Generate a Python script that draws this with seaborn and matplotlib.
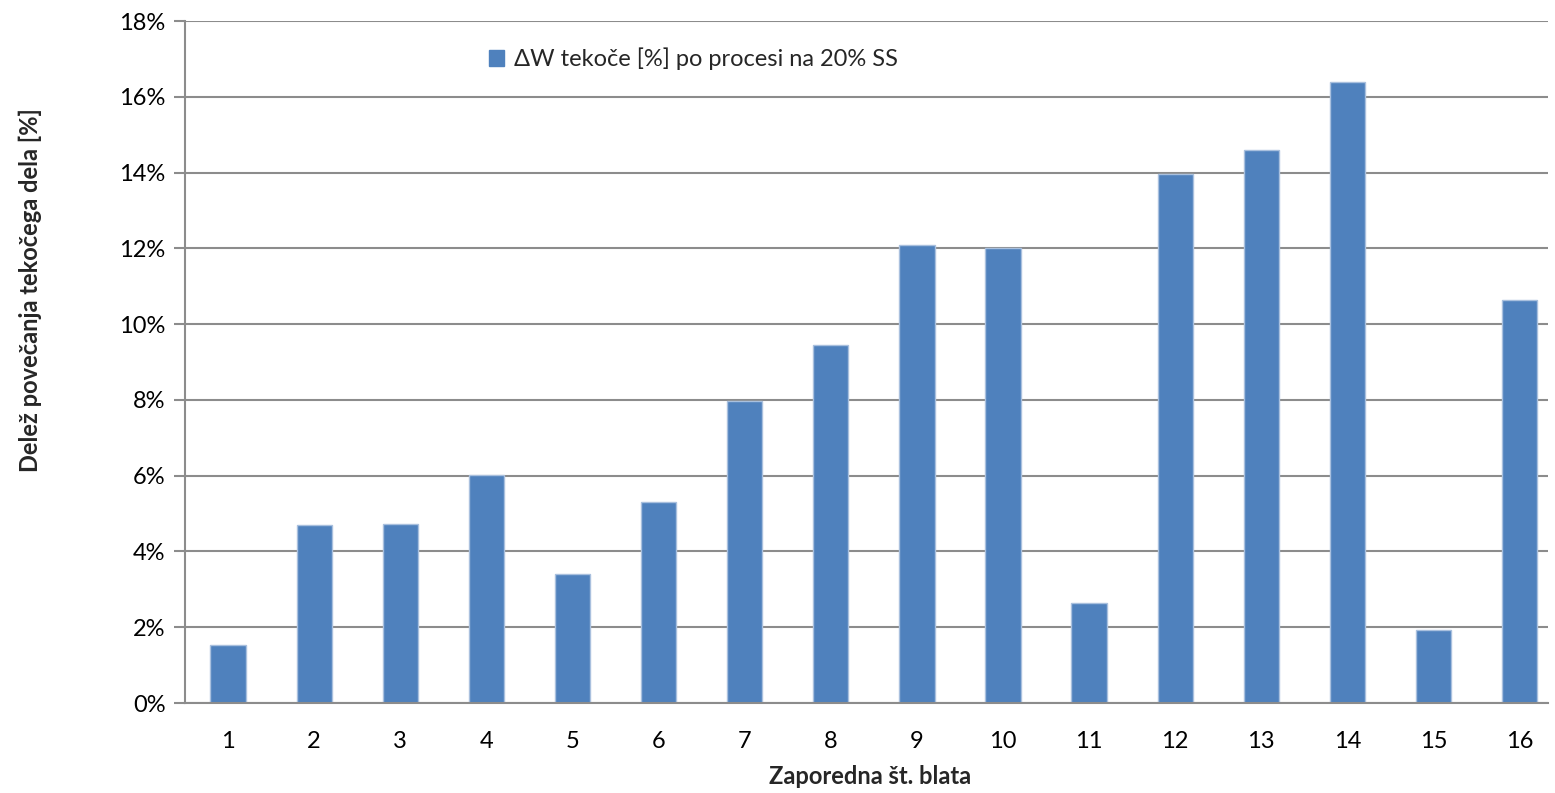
import matplotlib
matplotlib.use("Agg")
import matplotlib.pyplot as plt
import seaborn as sns
import pandas as pd
from matplotlib.ticker import FuncFormatter, MultipleLocator
from matplotlib.patches import Patch

categories = [str(i) for i in range(1, 17)]
values = [1.53, 4.70, 4.72, 6.02, 3.40, 5.30, 7.98, 9.45, 12.08, 12.0, 2.63, 13.96, 14.60, 16.40, 1.93, 10.63]
series_name = "ΔW tekoče [%] po procesi na 20% SS"
x_label = "Zaporedna št. blata"
y_label = "Delež povečanja tekočega dela [%]"

sns.set_theme(style="white")
plt.rcParams['font.family'] = ['Lato', 'DejaVu Sans']

df = pd.DataFrame({"cat": categories, "val": values})

fig = plt.figure(figsize=(15.55, 7.93), dpi=100)
ax = fig.add_axes([185/1555, 90/793, (1548-185)/1555, (703-21)/793])

grid_c = "#8c8c8c"
bar_c = "#4F81BD"
fs = 17
sns.barplot(data=df, x="cat", y="val", color=bar_c, width=0.41, ax=ax,
            edgecolor="#a9c0de", linewidth=1.0, saturation=1)

ax.set_ylim(0, 18)
ax.set_xlim(-0.5, 15.33)
ax.yaxis.set_major_locator(MultipleLocator(2))
ax.yaxis.set_major_formatter(FuncFormatter(lambda v, p: f"{int(round(v))}%"))
ax.yaxis.grid(True, color=grid_c, linewidth=1.5)
ax.set_axisbelow(True)
for s in ["top", "right"]:
    ax.spines[s].set_visible(False)
for s in ["left", "bottom"]:
    ax.spines[s].set_color(grid_c)
    ax.spines[s].set_linewidth(1.5)
ax.tick_params(axis="y", which="major", left=True, length=8, width=1.5, color=grid_c,
               labelsize=fs, pad=6, labelcolor="black")
ax.tick_params(axis="x", bottom=False, labelsize=fs, pad=14, labelcolor="black")
ax.set_xlabel("")
ax.set_ylabel("")

fig.text(870/1555, 1 - 777/793, x_label, ha="center", va="center", fontsize=fs,
         fontweight="bold")
fig.text(30/1555, 1 - 290/793, y_label, ha="center", va="center", rotation=90,
         fontsize=fs, fontweight="bold")

handle = Patch(facecolor=bar_c, edgecolor=bar_c)
fig.legend([handle], [series_name], loc="center left",
           bbox_to_anchor=(489/1555, 1 - 59/793), frameon=False, fontsize=fs,
           handlelength=0.65, handleheight=0.65, handletextpad=0.4, borderaxespad=0,
           borderpad=0)

fig.savefig("out.png", dpi=100)
